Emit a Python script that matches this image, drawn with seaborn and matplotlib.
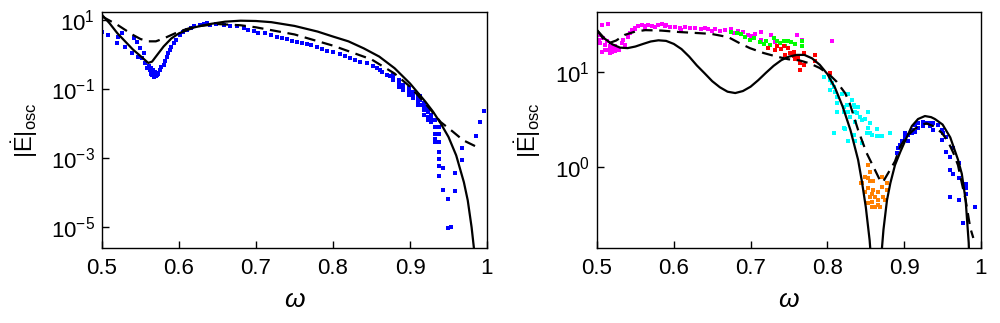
import matplotlib
matplotlib.use("Agg")
import matplotlib.pyplot as plt
import seaborn as sns
from matplotlib.ticker import NullLocator

# ---- panel izquierdo: curvas ----
izq_solida_w = [0.50, 0.51, 0.52, 0.53, 0.54, 0.55, 0.56, 0.565, 0.57, 0.58, 0.59, 0.60,
                0.62, 0.64, 0.66, 0.68, 0.70, 0.72, 0.75, 0.78, 0.80, 0.82, 0.84, 0.86,
                0.88, 0.90, 0.92, 0.93, 0.94, 0.95, 0.96, 0.97, 0.975, 0.98, 0.983, 0.985]
izq_solida_E = [14, 7.9, 4.1, 2.4, 1.4, 0.9, 0.57, 0.62, 0.87, 1.7, 2.9, 4.1,
                6.1, 7.6, 8.9, 9.5, 9.3, 8.6, 6.7, 4.6, 3.3, 2.4, 1.5, 0.87,
                0.40, 0.145, 0.043, 0.022, 0.010, 0.0041, 0.0012, 2e-4, 6e-5, 1e-5, 2.5e-6, 1e-7]

izq_trazos_w = [0.50, 0.52, 0.54, 0.55, 0.56, 0.57, 0.58, 0.60, 0.62, 0.65, 0.68, 0.70,
                0.75, 0.80, 0.85, 0.88, 0.90, 0.92, 0.94, 0.955, 0.969, 0.987, 0.99]
izq_trazos_E = [12.6, 7.2, 3.7, 2.8, 2.4, 2.4, 2.9, 4.6, 6.4, 7.6, 7.0, 6.1,
                3.8, 1.8, 0.72, 0.28, 0.117, 0.038, 0.011, 6e-3, 3.3e-3, 2.1e-3, 2.0e-3]

# puntos azules (simulación)
izq_puntos_w = [0.500, 0.508, 0.519, 0.521, 0.526, 0.530, 0.539, 0.541, 0.545, 0.547, 0.549,
                0.552, 0.554, 0.556, 0.558, 0.561, 0.562, 0.564, 0.565, 0.567, 0.568, 0.570,
                0.571, 0.573, 0.575, 0.577, 0.580, 0.582, 0.584, 0.586, 0.588, 0.590, 0.593,
                0.596, 0.601, 0.605, 0.610, 0.615, 0.619, 0.627, 0.632, 0.636, 0.640, 0.648,
                0.658, 0.666, 0.675, 0.684, 0.690, 0.697, 0.703, 0.712, 0.720, 0.727, 0.734,
                0.740, 0.747, 0.753, 0.760, 0.766, 0.772, 0.779, 0.786, 0.792, 0.800, 0.809,
                0.815, 0.822, 0.829, 0.835, 0.844, 0.852, 0.857, 0.861, 0.863, 0.870, 0.874,
                0.878, 0.878, 0.878, 0.886, 0.886, 0.886, 0.891, 0.891, 0.891,
                0.899, 0.899, 0.899, 0.904, 0.904, 0.904, 0.910, 0.910, 0.910, 0.910,
                0.913, 0.913, 0.913, 0.918, 0.918, 0.918, 0.918, 0.923, 0.923, 0.923, 0.923,
                0.927, 0.927, 0.927, 0.932, 0.932, 0.932, 0.932, 0.932,
                0.938, 0.938, 0.938, 0.938, 0.938, 0.938, 0.938,
                0.943, 0.943, 0.949, 0.949, 0.953, 0.958, 0.958, 0.968, 0.968,
                0.986, 0.991, 0.996,
                0.563, 0.566, 0.569, 0.572, 0.566, 0.569]
izq_puntos_E = [4.6, 3.7, 2.1, 3.3, 4.1, 1.7, 1.07, 2.95, 2.34, 0.87, 1.5,
                0.78, 1.12, 0.55, 0.40, 0.45, 0.35, 0.28, 0.25, 0.23, 0.24, 0.235,
                0.25, 0.28, 0.35, 0.42, 0.50, 0.66, 0.87, 1.10, 1.35, 1.66, 2.1,
                2.6, 3.7, 4.4, 5.1, 5.9, 6.5, 7.2, 7.6, 7.9, 7.2, 7.4,
                7.2, 6.8, 6.5, 5.8, 5.2, 4.9, 4.3, 4.1, 3.6, 3.3, 3.0,
                2.75, 2.5, 2.34, 2.14, 2.0, 1.86, 1.7, 1.48, 1.29, 1.15, 1.03,
                0.89, 0.78, 0.69, 0.62, 0.55, 0.45, 0.40, 0.35, 0.32, 0.26, 0.24,
                0.26, 0.22, 0.18, 0.18, 0.148, 0.117, 0.13, 0.112, 0.093,
                0.105, 0.085, 0.068, 0.083, 0.068, 0.054, 0.068, 0.058, 0.045, 0.035,
                0.063, 0.047, 0.035, 0.039, 0.031, 0.024, 0.018, 0.0275, 0.022, 0.016, 0.0126,
                0.018, 0.014, 0.0112, 0.0126, 0.0079, 0.005, 0.0035, 0.0029,
                0.0081, 0.005, 0.003, 0.0015, 9.3e-4, 6e-4, 3e-4,
                5.2e-4, 1.2e-4, 6.6e-5, 9.5e-6, 1.0e-5, 3.7e-4, 1.1e-4, 2.0e-3, 9.1e-4,
                4.4e-3, 0.0112, 0.0234,
                0.40, 0.30, 0.27, 0.30, 0.36, 0.32]

# ---- panel derecho: curvas ----
der_solida1_w = [0.50, 0.51, 0.52, 0.53, 0.54, 0.55, 0.56, 0.57, 0.58, 0.59, 0.60, 0.61,
                 0.62, 0.63, 0.64, 0.65, 0.66, 0.67, 0.68, 0.69, 0.70, 0.71, 0.72, 0.73,
                 0.74, 0.75, 0.76, 0.77, 0.78, 0.79, 0.80, 0.81, 0.82, 0.83, 0.84, 0.845,
                 0.85, 0.855, 0.858]
der_solida1_E = [27.5, 22.4, 19.5, 18.0, 17.8, 18.5, 19.7, 20.9, 21.5, 21.2, 19.7, 17.4,
                 14.5, 11.7, 9.7, 8.0, 6.9, 6.2, 6.0, 6.3, 7.0, 8.2, 9.8, 11.6,
                 13.3, 14.5, 15.1, 15.1, 13.9, 11.9, 9.5, 6.8, 4.3, 2.45, 1.19, 0.70,
                 0.38, 0.17, 0.08]
der_solida2_w = [0.869, 0.871, 0.873, 0.8776, 0.882, 0.888, 0.895, 0.902, 0.91, 0.918,
                 0.927, 0.935, 0.94, 0.95, 0.96, 0.97, 0.975, 0.98, 0.984, 0.986]
der_solida2_E = [0.08, 0.14, 0.22, 0.45, 0.68, 1.05, 1.45, 1.95, 2.7, 3.2,
                 3.44, 3.35, 3.2, 2.8, 2.05, 1.2, 0.85, 0.45, 0.16, 0.05]

der_trazos_w = [0.500, 0.508, 0.515, 0.525, 0.536, 0.550, 0.563, 0.584, 0.606, 0.628, 0.649,
                0.671, 0.686, 0.699, 0.717, 0.734, 0.749, 0.764, 0.777, 0.790, 0.803, 0.812,
                0.823, 0.829, 0.840, 0.851, 0.862, 0.868, 0.872, 0.880, 0.888, 0.895, 0.903,
                0.912, 0.920, 0.929, 0.938, 0.949, 0.957, 0.964, 0.970, 0.975, 0.980, 0.986,
                0.990]
der_trazos_E = [27.5, 22.4, 20.0, 21.4, 24.5, 26.6, 27.5, 27.2, 26.3, 25.7, 25.1,
                23.2, 20.0, 17.8, 15.8, 14.5, 13.6, 13.2, 12.3, 11.0, 9.3, 7.9,
                6.0, 4.7, 2.45, 1.41, 0.93, 0.74, 0.69, 0.89, 1.15, 1.66, 2.09,
                2.45, 2.75, 2.88, 2.69, 2.29, 1.86, 1.41, 1.05, 0.68, 0.45, 0.23,
                0.18]

# ---- panel derecho: puntos por color ----
magenta_w = [0.502, 0.503, 0.504, 0.506, 0.506, 0.508, 0.510, 0.511, 0.513, 0.514, 0.515,
             0.517, 0.517, 0.519, 0.520, 0.521, 0.523, 0.524, 0.526, 0.528, 0.532, 0.534,
             0.536, 0.541, 0.543, 0.545, 0.549, 0.550, 0.554, 0.558, 0.562, 0.563, 0.567,
             0.571, 0.576, 0.580, 0.584, 0.589, 0.590, 0.595, 0.602, 0.608, 0.610, 0.615,
             0.621, 0.628, 0.636, 0.640, 0.645, 0.650, 0.654, 0.660, 0.667, 0.675, 0.678,
             0.684, 0.690, 0.697, 0.701, 0.706, 0.714, 0.714, 0.727, 0.732, 0.760, 0.767,
             0.806]
magenta_E = [24.5, 21.9, 20.0, 16.2, 31.3, 22.6, 19.1, 17.0, 20.9, 32.0, 17.0,
             15.8, 18.6, 16.2, 18.2, 17.4, 16.6, 18.6, 17.8, 17.0, 20.0, 21.9,
             19.1, 23.4, 25.7, 27.5, 28.8, 28.2, 30.2, 31.3, 29.2, 30.2, 31.3,
             30.5, 29.5, 31.3, 32.0, 30.5, 30.9, 29.5, 30.0, 28.8, 27.9, 29.5,
             28.8, 28.8, 28.2, 29.0, 28.2, 26.9, 28.2, 27.2, 27.5, 28.2, 25.7,
             27.2, 26.3, 24.5, 24.0, 25.1, 26.3, 21.9, 24.5, 20.4, 24.5, 21.9,
             21.4]

verde_w = [0.675, 0.682, 0.688, 0.693, 0.699, 0.705, 0.712, 0.717, 0.720, 0.725, 0.730,
           0.734, 0.738, 0.743, 0.745, 0.749, 0.753, 0.758, 0.767, 0.767]
verde_E = [26.3, 25.7, 25.1, 23.4, 21.9, 22.6, 20.4, 19.7, 21.4, 19.1, 22.6,
           21.4, 20.0, 20.9, 18.6, 20.9, 20.4, 19.5, 18.6, 20.9]

rojo_w = [0.723, 0.732, 0.734, 0.740, 0.743, 0.745, 0.749, 0.751, 0.756, 0.756, 0.758,
          0.762, 0.764, 0.764, 0.769, 0.769, 0.784, 0.784, 0.803]
rojo_E = [17.8, 17.0, 18.6, 17.4, 18.6, 15.1, 17.8, 15.8, 16.2, 14.8, 13.6,
          14.0, 12.3, 10.5, 11.7, 15.8, 15.1, 12.9, 9.8]

cian_w = [0.795, 0.803, 0.803, 0.806, 0.808, 0.803, 0.810, 0.812, 0.819, 0.812, 0.812,
          0.821, 0.821, 0.827, 0.832, 0.825, 0.827, 0.829, 0.834, 0.836, 0.836, 0.840,
          0.838, 0.842, 0.836, 0.845, 0.853, 0.849, 0.855, 0.853, 0.855, 0.864, 0.868,
          0.858, 0.821, 0.808, 0.823, 0.827, 0.836, 0.845, 0.851, 0.834, 0.882, 0.864,
          0.871]
cian_E = [8.9, 8.5, 8.3, 7.6, 7.0, 6.5, 6.2, 5.5, 5.8, 4.7, 3.8,
          4.3, 3.8, 5.8, 5.1, 4.5, 3.8, 3.4, 4.5, 4.3, 3.8, 4.3,
          3.7, 3.4, 3.0, 3.1, 3.8, 3.2, 2.9, 2.6, 2.3, 2.5, 2.1,
          2.2, 2.6, 2.3, 2.5, 1.86, 1.86, 1.78, 2.3, 2.2, 2.3, 2.1,
          2.1]

naranja_w = [0.853, 0.844, 0.845, 0.849, 0.853, 0.855, 0.849, 0.853, 0.855, 0.858, 0.858,
             0.862, 0.862, 0.866, 0.866, 0.871, 0.868, 0.873, 0.877, 0.877, 0.875, 0.866,
             0.860, 0.860, 0.871, 0.855, 0.858, 0.853]
naranja_E = [1.05, 0.68, 0.68, 0.79, 0.76, 0.72, 0.55, 0.60, 0.49, 0.43, 0.38,
             0.49, 0.38, 0.45, 0.40, 0.62, 0.38, 0.49, 0.68, 0.58, 0.45, 0.55,
             0.58, 0.72, 0.79, 0.89, 0.52, 0.42]

azul_w = [0.890, 0.892, 0.895, 0.897, 0.901, 0.901, 0.905, 0.905, 0.910, 0.910, 0.914,
          0.914, 0.918, 0.918, 0.925, 0.925, 0.929, 0.934, 0.934, 0.938, 0.938, 0.944,
          0.949, 0.951, 0.949, 0.955, 0.955, 0.960, 0.964, 0.960, 0.964, 0.971, 0.971,
          0.960, 0.971, 0.981, 0.981, 0.981, 0.976, 0.992]
azul_E = [1.41, 1.57, 1.70, 1.86, 2.09, 2.26, 2.19, 1.86, 2.45, 2.26, 2.75,
          2.34, 2.88, 2.57, 2.95, 2.69, 2.88, 2.88, 2.69, 2.88, 2.45, 2.75,
          2.45, 2.26, 1.91, 2.09, 1.45, 1.29, 1.57, 0.93, 0.85, 1.10, 0.76,
          0.49, 0.45, 0.66, 0.60, 0.52, 0.26, 0.38]

ticks_x = [0.5, 0.6, 0.7, 0.8, 0.9, 1.0]
etiquetas_x = ["0.5", "0.6", "0.7", "0.8", "0.9", "1"]

# ---- estilo ----
sns.set_style("white")
plt.rcParams["font.family"] = ["Liberation Sans", "DejaVu Sans"]
plt.rcParams["mathtext.fontset"] = "custom"
plt.rcParams["mathtext.rm"] = "Liberation Sans"
plt.rcParams["mathtext.it"] = "Liberation Sans:italic"
plt.rcParams["mathtext.bf"] = "Liberation Sans:bold"
plt.rcParams["text.color"] = "black"
plt.rcParams["axes.labelcolor"] = "black"
plt.rcParams["xtick.color"] = "black"
plt.rcParams["ytick.color"] = "black"

fig = plt.figure(figsize=(10, 3.23), dpi=100)
ax1 = fig.add_axes([0.102, 0.232, 0.385, 0.731])
ax2 = fig.add_axes([0.597, 0.232, 0.384, 0.731])

for ax in (ax1, ax2):
    ax.set_yscale("log")

punto = dict(marker="s", s=6, linewidth=0, legend=False)
linea = dict(estimator=None, sort=False, legend=False)

# izquierda
sns.scatterplot(x=izq_puntos_w, y=izq_puntos_E, color="#0000FF", ax=ax1, **punto)
sns.lineplot(x=izq_solida_w, y=izq_solida_E, color="black", lw=1.6, ax=ax1, **linea)
sns.lineplot(x=izq_trazos_w, y=izq_trazos_E, color="black", lw=1.6, ax=ax1, **linea)
ax1.lines[-1].set_dashes([5, 3])

# derecha
for w, E, c in [(magenta_w, magenta_E, "#FF00FF"), (verde_w, verde_E, "#00FF00"),
                (rojo_w, rojo_E, "#FF0000"), (cian_w, cian_E, "#00FFFF"),
                (naranja_w, naranja_E, "#FF8000"), (azul_w, azul_E, "#0000FF")]:
    sns.scatterplot(x=w, y=E, color=c, ax=ax2, **punto)
sns.lineplot(x=der_solida1_w, y=der_solida1_E, color="black", lw=1.6, ax=ax2, **linea)
sns.lineplot(x=der_solida2_w, y=der_solida2_E, color="black", lw=1.6, ax=ax2, **linea)
sns.lineplot(x=der_trazos_w, y=der_trazos_E, color="black", lw=1.6, ax=ax2, **linea)
ax2.lines[-1].set_dashes([5, 3])

ax1.set_ylim(2.5e-6, 17)
ax1.set_yticks([1e1, 1e-1, 1e-3, 1e-5])
ax2.set_ylim(0.141, 42.7)
ax2.set_yticks([1e0, 1e1])

ylabel = r"$|\dot{\mathrm{E}}|_{\mathrm{osc}}$"
for ax, xl in ((ax1, -0.16), (ax2, -0.14)):
    ax.set_xlim(0.5, 1.0)
    ax.set_xticks(ticks_x, etiquetas_x)
    ax.yaxis.set_minor_locator(NullLocator())
    ax.tick_params(axis="both", direction="in", length=5, width=1, color="black",
                   labelcolor="black", labelsize=16, pad=7, left=True, bottom=True)
    ax.tick_params(axis="y", pad=5)
    for s in ax.spines.values():
        s.set_color("black")
        s.set_linewidth(1)
    ax.set_xlabel(r"$\omega$", fontsize=19)
    ax.xaxis.set_label_coords(0.5, -0.17)
    ax.set_ylabel(ylabel, fontsize=17)
    ax.yaxis.set_label_coords(xl, 0.5)

fig.savefig("out.png", dpi=100)
